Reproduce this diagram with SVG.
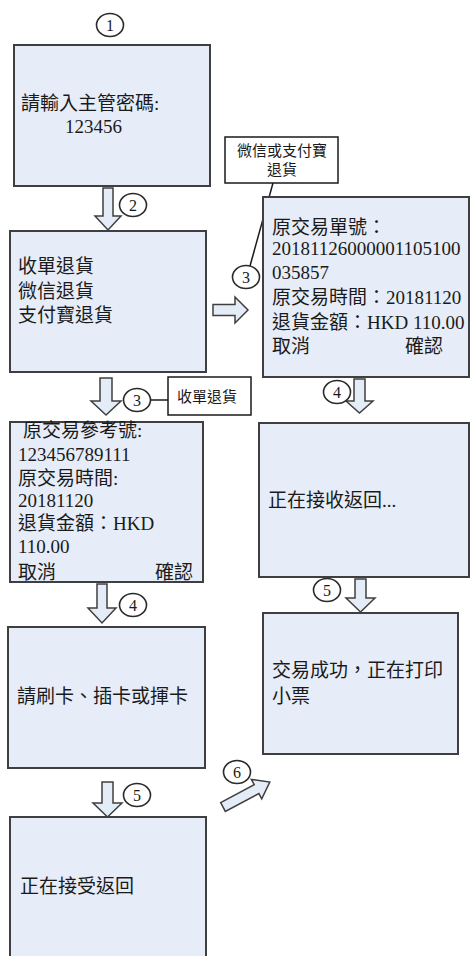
<svg xmlns="http://www.w3.org/2000/svg" width="471" height="956" viewBox="0 0 471 956">
<style>
.box{fill:#e6edf8;stroke:#3f3f3f;stroke-width:2}
.lbl{fill:#ffffff;stroke:#1a1a1a;stroke-width:1.5}
.t{font-family:"Liberation Serif","Noto Sans CJK TC",serif;font-size:19px;fill:#1a1a1a}
.s{font-family:"Liberation Serif","Noto Sans CJK TC",serif;font-size:15px;fill:#1a1a1a}
.num{font-family:"Liberation Serif",serif;font-size:16px;fill:#1a1a1a;text-anchor:middle}
.circ{fill:#ffffff;stroke:#2a2a2a;stroke-width:1.6}
.arr{fill:#e4ecf7;stroke:#3f3f3f;stroke-width:1.5;stroke-linejoin:miter}
.ln{stroke:#1a1a1a;stroke-width:1.5;fill:none}
</style>
<rect width="471" height="956" fill="#ffffff"/>

<g id="connectors">
  <polygon class="arr" points="103,188 113,188 113,216 121,216 108,230 95,216 103,216"/>
  <polygon class="arr" points="100,378 112,378 112,401 121,401 106,415 91,401 100,401"/>
  <polygon class="arr" points="97,584 107,584 107,608 116,608 102,623 88,608 97,608"/>
  <polygon class="arr" points="102,782 113,782 113,803 122,803 107.5,817 93,803 102,803"/>
  <polygon class="arr" points="354,379 365,379 365,401 373,401 359.5,413 346,401 354,401"/>
  <polygon class="arr" points="355,579 366,579 366,598 375,598 360.5,612 346,598 355,598"/>
  <polygon class="arr" points="213,304.5 235,304.5 235,297 248,310 235,323 235,315.5 213,315.5"/>
  <polygon class="arr" transform="translate(223,807) rotate(-28)" points="0,-5 38,-5 38,-11 53,0 38,11 38,5 0,5"/>
  <line class="ln" x1="273" y1="183" x2="250" y2="266"/>
  <line class="ln" x1="150.5" y1="400" x2="168" y2="400"/>
</g>

<g id="step-labels">
  <g id="c1"><ellipse class="circ" cx="110" cy="25" rx="13.5" ry="11.5"/><text class="num" x="110" y="30.5">1</text></g>
  <g id="c2"><ellipse class="circ" cx="133" cy="205" rx="13.5" ry="11.5"/><text class="num" x="133" y="210.5">2</text></g>
  <g id="c3a"><ellipse class="circ" cx="246" cy="277" rx="13.5" ry="11.5"/><text class="num" x="246" y="282.5">3</text></g>
  <g id="c3b"><ellipse class="circ" cx="137" cy="400" rx="13.5" ry="11.5"/><text class="num" x="137" y="405.5">3</text></g>
  <g id="c4a"><ellipse class="circ" cx="133" cy="605" rx="13.5" ry="11.5"/><text class="num" x="133" y="610.5">4</text></g>
  <g id="c4b"><ellipse class="circ" cx="337" cy="392" rx="13.5" ry="11.5"/><text class="num" x="337" y="397.5">4</text></g>
  <g id="c5a"><ellipse class="circ" cx="327" cy="590" rx="13.5" ry="11.5"/><text class="num" x="327" y="595.5">5</text></g>
  <g id="c5b"><ellipse class="circ" cx="137" cy="795" rx="13.5" ry="11.5"/><text class="num" x="137" y="800.5">5</text></g>
  <g id="c6"><ellipse class="circ" cx="237" cy="772" rx="13.5" ry="11.5"/><text class="num" x="237" y="777.5">6</text></g>
</g>

<g id="label-wechat">
  <rect class="lbl" x="225" y="137" width="113" height="46"/>
  <text class="s" x="282" y="156" text-anchor="middle">微信或支付寶</text>
  <text class="s" x="282" y="175" text-anchor="middle">退貨</text>
</g>

<g id="label-card">
  <rect class="lbl" x="168" y="377" width="83" height="38"/>
  <text class="s" x="177" y="402">收單退貨</text>
</g>

<g id="node-password">
  <rect class="box" x="14" y="45" width="196" height="141"/>
  <text class="t" x="21" y="110">請輸入主管密碼:</text>
  <text class="t" x="65" y="133">123456</text>
</g>

<g id="node-menu">
  <rect class="box" x="10" y="231" width="196" height="141"/>
  <text class="t" x="18" y="273">收單退貨</text>
  <text class="t" x="18" y="298">微信退貨</text>
  <text class="t" x="18" y="322">支付寶退貨</text>
</g>

<g id="node-wallet-refund">
  <rect class="box" x="263" y="197" width="206" height="180"/>
  <text class="t" x="272" y="234">原交易單號：</text>
  <text class="t" x="272" y="255">20181126000001105100</text>
  <text class="t" x="272" y="279">035857</text>
  <text class="t" x="272" y="304">原交易時間：20181120</text>
  <text class="t" x="272" y="329">退貨金額：HKD 110.00</text>
  <text class="t" x="272" y="353">取消</text>
  <text class="t" x="443" y="353" text-anchor="end">確認</text>
</g>

<g id="node-card-refund">
  <rect class="box" x="10" y="422" width="193" height="160"/>
  <text class="t" x="23" y="437">原交易參考號:</text>
  <text class="t" x="18" y="461">123456789111</text>
  <text class="t" x="18" y="485">原交易時間:</text>
  <text class="t" x="18" y="507">20181120</text>
  <text class="t" x="18" y="530">退貨金額：HKD</text>
  <text class="t" x="18" y="553">110.00</text>
  <text class="t" x="18" y="579">取消</text>
  <text class="t" x="193" y="579" text-anchor="end">確認</text>
</g>

<g id="node-receiving">
  <rect class="box" x="259" y="423" width="210" height="154"/>
  <text class="t" x="268" y="507">正在接收返回...</text>
</g>

<g id="node-success">
  <rect class="box" x="263" y="613" width="195" height="141"/>
  <text class="t" x="272" y="677">交易成功，正在打印</text>
  <text class="t" x="272" y="703">小票</text>
</g>

<g id="node-swipe">
  <rect class="box" x="8" y="627" width="197" height="141"/>
  <text class="t" x="17" y="703">請刷卡、插卡或揮卡</text>
</g>

<g id="node-accepting">
  <rect class="box" x="10" y="817" width="196" height="160"/>
  <text class="t" x="20" y="893">正在接受返回</text>
</g>
</svg>
